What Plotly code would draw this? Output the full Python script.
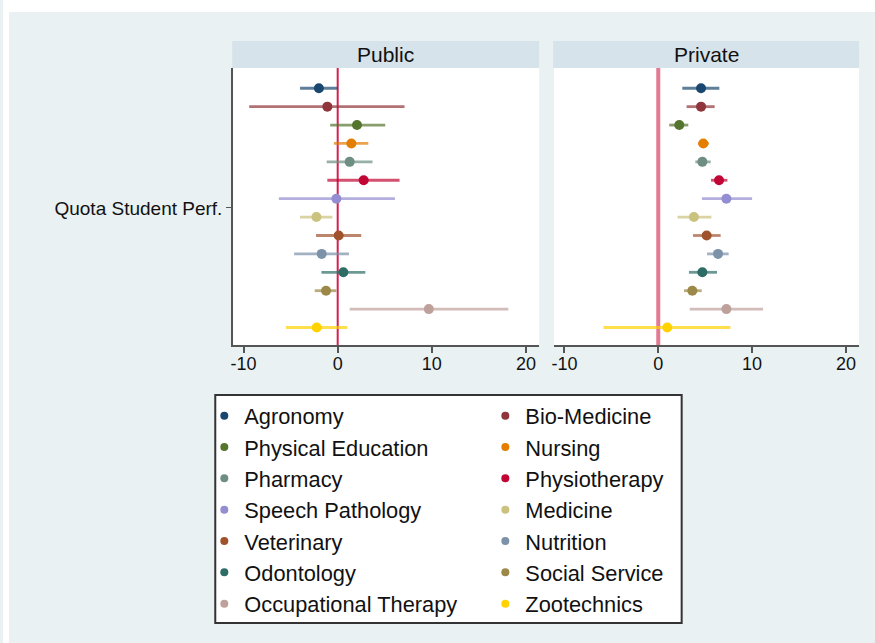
import plotly.graph_objects as go

categories = ["Agronomy", "Bio-Medicine", "Physical Education", "Nursing", "Pharmacy",
              "Physiotherapy", "Speech Pathology", "Medicine", "Veterinary", "Nutrition",
              "Odontology", "Social Service", "Occupational Therapy", "Zootechnics"]
colors = ["#1a476f", "#90353b", "#55752f", "#e37e00", "#6e8e84", "#c10534", "#938dd2",
          "#cac27e", "#a0522d", "#7b92a8", "#2d6d66", "#9c8847", "#bfa19c", "#ffd200"]

pub_est = [-2.0, -1.1, 2.05, 1.45, 1.27, 2.76, -0.14, -2.26, 0.1, -1.7, 0.6, -1.24, 9.68, -2.23]
pub_lo  = [-4.0, -9.4, -0.8, -0.4, -1.17, -1.1, -6.25, -4.0, -2.3, -4.63, -1.73, -2.44, 1.27, -5.5]
pub_hi  = [0.0, 7.1, 5.05, 3.25, 3.7, 6.57, 6.08, -0.57, 2.5, 1.2, 2.93, -0.14, 18.13, 1.02]

priv_est = [4.56, 4.56, 2.24, 4.8, 4.7, 6.48, 7.26, 3.8, 5.16, 6.37, 4.7, 3.63, 7.26, 0.96]
priv_lo  = [2.56, 3.02, 1.17, 4.23, 3.95, 5.62, 4.66, 2.06, 3.7, 5.2, 3.27, 2.74, 3.35, -5.84]
priv_hi  = [6.51, 6.01, 3.2, 5.4, 5.59, 7.37, 10.0, 5.66, 6.65, 7.5, 6.26, 4.63, 11.17, 7.69]

panel_titles = ["Public", "Private"]
x_ticks = [-10, 0, 10, 20]
x_ticktext = ["-10", "0", "10", "20"]
y_label = "Quota Student Perf."

W, H = 875, 643
FONT = "Liberation Sans, Arial, sans-serif"


def rgba(hexc, a):
    h = hexc.lstrip("#")
    return "rgba(%d,%d,%d,%.2f)" % (int(h[0:2], 16), int(h[2:4], 16), int(h[4:6], 16), a)


def px(x):
    return x / W


def py(y):
    return 1 - y / H


fig = go.Figure()

rows = list(range(len(categories)))
for i, (cat, col) in enumerate(zip(categories, colors)):
    for est, lo, hi, xa, ya in [(pub_est, pub_lo, pub_hi, "x", "y"),
                                (priv_est, priv_lo, priv_hi, "x2", "y2")]:
        fig.add_trace(go.Scatter(
            x=[est[i]], y=[rows[i]], xaxis=xa, yaxis=ya, mode="markers",
            marker=dict(size=10, color=col),
            error_x=dict(type="data", symmetric=False, array=[hi[i] - est[i]],
                         arrayminus=[est[i] - lo[i]], color=rgba(col, 0.7),
                         thickness=2.8, width=0),
            showlegend=False, legendgroup=cat, name=cat, hoverinfo="x+name"))
    # legend entry
    fig.add_trace(go.Scatter(
        x=[None], y=[None], xaxis="x", yaxis="y", mode="markers",
        marker=dict(size=8, color=col), name=cat, legendgroup=cat,
        showlegend=True, legend="legend" if i % 2 == 0 else "legend2"))

xr = [-11.1, 21.4]
yr = [13.95, -1.1]
ydom = [py(345), py(68)]
xd1 = [px(231), px(538)]
xd2 = [px(553), px(859)]

axis_common = dict(range=xr, tickvals=x_ticks, ticktext=x_ticktext, ticks="outside",
                   ticklen=6, tickwidth=1.5,
                   tickcolor="#555", showline=True, linecolor="#555", linewidth=2,
                   showgrid=False, zeroline=False, ticklabelstandoff=-5,
                   tickfont=dict(family=FONT, size=18, color="#111"))

legend_common = dict(xanchor="left", yanchor="top", bgcolor="rgba(0,0,0,0)", borderwidth=0,
                     tracegroupgap=0, font=dict(family=FONT, size=21.8, color="#111"),
                     itemclick=False)

fig.update_layout(
    width=W, height=H, margin=dict(l=0, r=0, t=0, b=0),
    paper_bgcolor="#e9f1f3", plot_bgcolor="white",
    xaxis=dict(domain=xd1, anchor="y", **axis_common),
    xaxis2=dict(domain=xd2, anchor="y2", **axis_common),
    yaxis=dict(domain=ydom, anchor="x", range=yr, tickvals=[6.5], ticktext=[y_label],
               ticks="outside", ticklen=5, tickcolor="#555", showline=True,
               linecolor="#555", linewidth=2, showgrid=False, zeroline=False,
               tickfont=dict(family=FONT, size=19, color="#111")),
    yaxis2=dict(domain=ydom, anchor="x2", range=yr, showticklabels=False, ticks="",
                showline=False, showgrid=False, zeroline=False),
    legend=dict(x=px(202), y=py(395), **legend_common),
    legend2=dict(x=px(484), y=py(395), **legend_common),
)

shapes = [
    # white border areas outside graph region
    dict(type="rect", xref="paper", yref="paper", x0=0, x1=1, y0=py(12), y1=1,
         fillcolor="white", line=dict(width=0), layer="below"),
    dict(type="rect", xref="paper", yref="paper", x0=0, x1=px(6), y0=0, y1=1,
         fillcolor="white", line=dict(width=0), layer="below"),
    # legend box
    dict(type="rect", xref="paper", yref="paper", x0=px(213), x1=px(681), y0=py(623), y1=py(395),
         fillcolor="white", line=dict(color="#333", width=2), layer="below"),
    # zero lines
    dict(type="line", xref="x", yref="y domain", x0=0, x1=0, y0=0, y1=1,
         line=dict(color="#d42050", width=2), layer="below"),
    dict(type="line", xref="x2", yref="y2 domain", x0=0, x1=0, y0=0, y1=1,
         line=dict(color="#e47993", width=4), layer="below"),
]
annotations = []
for title, dom in zip(panel_titles, [[px(230), px(538)], [px(552), px(859)]]):
    shapes.append(dict(type="rect", xref="paper", yref="paper", x0=dom[0], x1=dom[1],
                       y0=py(68), y1=py(41), fillcolor="#d7e3ea", line=dict(width=0)))
    annotations.append(dict(xref="paper", yref="paper", x=(dom[0] + dom[1]) / 2, y=py(54.5),
                            text=title, showarrow=False, xanchor="center", yanchor="middle",
                            font=dict(family=FONT, size=21, color="#111")))
fig.update_layout(shapes=shapes, annotations=annotations)

fig.write_html("out.html", config={"displayModeBar": False},
               post_script="document.body.style.margin='0';document.body.style.overflow='hidden';")
